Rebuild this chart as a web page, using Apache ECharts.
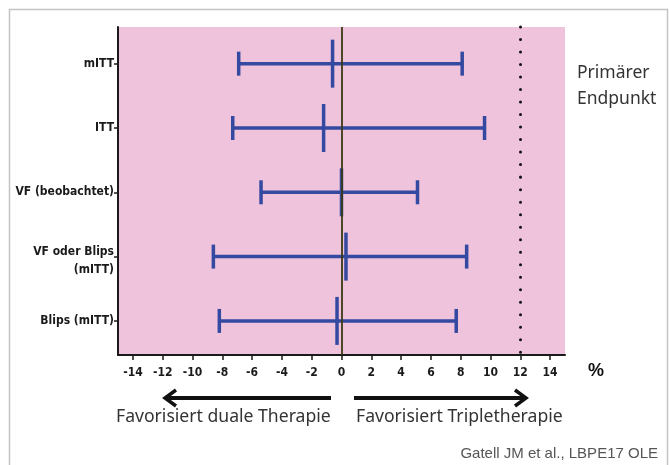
<!DOCTYPE html>
<html>
<head>
<meta charset="utf-8">
<script src="https://cdn.jsdelivr.net/npm/echarts@6/dist/echarts.min.js"></script>
<style>html,body{margin:0;padding:0;background:#fff}#c{width:669px;height:465px}</style>
</head>
<body>
<div id="c"></div>
<script>
// Data
var categories = ['mITT', 'ITT', 'VF (beobachtet)', 'VF oder Blips\n(mITT)', 'Blips (mITT)'];
var lowerCI = [-6.9, -7.3, -5.4, -8.6, -8.2];
var estimate = [-0.6, -1.2, 0.0, 0.3, -0.3];
var upperCI = [8.1, 9.6, 5.1, 8.4, 7.7];
var xTicks = [-14, -12, -10, -8, -6, -4, -2, 0, 2, 4, 6, 8, 10, 12, 14];
var margin = 12;

var chart = echarts.init(document.getElementById('c'), null, {renderer: 'canvas'});
var seriesData = categories.map(function (c, i) { return [i + 1, lowerCI[i], estimate[i], upperCI[i]]; });
var blue = '#3449a0';
var labelFont = "'Liberation Sans Narrow', 'Arial Narrow', 'DejaVu Sans Condensed', sans-serif";

chart.setOption({
  animation: false,
  grid: {left: 118, right: 104, top: 27, bottom: 110, show: true, backgroundColor: '#efc3dc', borderWidth: 0},
  xAxis: {
    type: 'value', min: -15, max: 15,
    axisLine: {show: true, onZero: false, lineStyle: {color: '#1a1a1a', width: 2}},
    axisTick: {show: true, customValues: xTicks, length: 5, lineStyle: {color: '#1a1a1a', width: 1.5}},
    axisLabel: {customValues: xTicks, color: '#1a1a1a', fontFamily: labelFont, fontWeight: 'bold', fontSize: 12, margin: 12},
    splitLine: {show: false}
  },
  yAxis: {
    type: 'value', inverse: true, min: 0.43, max: 5.53,
    axisLine: {show: true, onZero: false, lineStyle: {color: '#1a1a1a', width: 2}},
    axisTick: {show: true, customValues: [1, 2, 3, 4, 5], length: 4, lineStyle: {color: '#1a1a1a', width: 1.5}},
    axisLabel: {
      customValues: [1, 2, 3, 4, 5],
      formatter: function (v) {
        var t = categories[Math.round(v) - 1] || '';
        return t.indexOf('\n') >= 0 ? '{m|' + t.split('\n').join('}\n{m|') + '}' : t;
      },
      rich: {m: {fontFamily: labelFont, fontWeight: 'bold', fontSize: 12, color: '#1a1a1a', lineHeight: 18, padding: [8, 0, 0, 0], align: 'right'}},
      color: '#1a1a1a', fontFamily: labelFont, fontWeight: 'bold', fontSize: 12, margin: 4, align: 'right', lineHeight: 18
    },
    splitLine: {show: false}
  },
  series: [{
    type: 'custom',
    data: seriesData,
    encode: {x: [1, 2, 3], y: 0},
    renderItem: function (params, api) {
      var y = api.value(0);
      var pL = api.coord([api.value(1), y]);
      var pE = api.coord([api.value(2), y]);
      var pH = api.coord([api.value(3), y]);
      var st = {stroke: blue, lineWidth: 3.5};
      var capH = 12, estH = 24;
      return {
        type: 'group',
        children: [
          {type: 'line', shape: {x1: pL[0], y1: pL[1], x2: pH[0], y2: pH[1]}, style: st},
          {type: 'line', shape: {x1: pL[0], y1: pL[1] - capH, x2: pL[0], y2: pL[1] + capH}, style: st},
          {type: 'line', shape: {x1: pH[0], y1: pH[1] - capH, x2: pH[0], y2: pH[1] + capH}, style: st},
          {type: 'line', shape: {x1: pE[0], y1: pE[1] - estH, x2: pE[0], y2: pE[1] + estH}, style: st}
        ]
      };
    },
    markLine: {
      silent: true, symbol: 'none', label: {show: false},
      data: [
        {xAxis: 0, lineStyle: {color: '#3a3a12', width: 1.8, type: 'solid'}},
        {xAxis: margin, lineStyle: {color: '#111', width: 3, type: [0.01, 12.5], cap: 'round'}}
      ]
    },
    z: 3
  }],
  graphic: [
    {type: 'rect', shape: {x: 9.5, y: 9.5, width: 658, height: 470}, style: {fill: null, stroke: '#c4c4c4', lineWidth: 1.5}, z: -10},
    {type: 'text', left: 577, top: 60, style: {text: 'Primärer\nEndpunkt', font: "17.5px 'Noto Sans', sans-serif", fill: '#333', lineHeight: 26}},
    {type: 'text', left: 588, top: 362, style: {text: '%', font: "bold 18px 'Liberation Sans', sans-serif", fill: '#111'}},
    {type: 'polyline', shape: {points: [[331, 398], [167, 398]]}, style: {stroke: '#111', lineWidth: 4}},
    {type: 'polyline', shape: {points: [[176, 390], [165, 398], [176, 406]]}, style: {stroke: '#111', lineWidth: 3.5, fill: null}},
    {type: 'polyline', shape: {points: [[354, 398], [523, 398]]}, style: {stroke: '#111', lineWidth: 4}},
    {type: 'polyline', shape: {points: [[515, 390], [526, 398], [515, 406]]}, style: {stroke: '#111', lineWidth: 3.5, fill: null}},
    {type: 'text', left: 116, top: 408, style: {text: 'Favorisiert duale Therapie', font: "17.6px 'Noto Sans', sans-serif", fill: '#333'}},
    {type: 'text', left: 356, top: 408, style: {text: 'Favorisiert Tripletherapie', font: "17.6px 'Noto Sans', sans-serif", fill: '#333'}},
    {type: 'text', right: 11, top: 446, style: {text: 'Gatell JM et al., LBPE17 OLE', font: "15px 'Liberation Sans', sans-serif", fill: '#555'}}
  ]
});
</script>
</body>
</html>
